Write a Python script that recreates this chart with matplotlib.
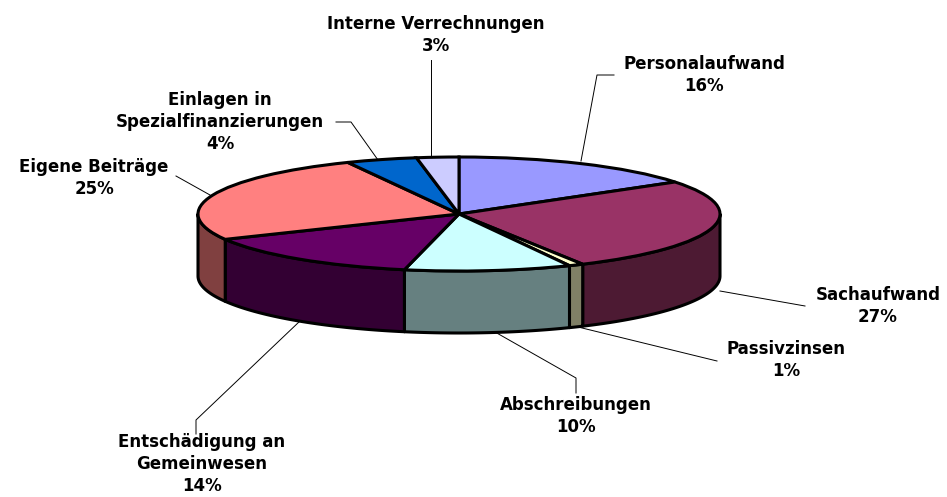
import numpy as np
import matplotlib
matplotlib.use("Agg")
import matplotlib.pyplot as plt
from matplotlib.lines import Line2D
from matplotlib.transforms import Affine2D

W, H = 947, 497
categories = ["Personalaufwand", "Sachaufwand", "Passivzinsen", "Abschreibungen",
              "Entschädigung an\nGemeinwesen", "Eigene Beiträge",
              "Einlagen in\nSpezialfinanzierungen", "Interne Verrechnungen"]
values = [15.5, 26.6, 0.9, 10.3, 14.3, 25.3, 4.4, 2.6]
top_colors = ["#9999FF", "#993366", "#FFFFCC", "#CCFFFF", "#660066", "#FF8080", "#0066CC", "#CCCCFF"]
side_colors = ["#4D4D80", "#4D1A33", "#808066", "#668080", "#330033", "#804040", "#003366", "#666680"]
label_pos = [(704, 75), (878, 306), (786, 360), (576, 416), (202, 464), (94, 178), (220, 122), (436, 35)]
leaders = [[(581, 161), (597, 75), (614, 75)],
           [(720, 291), (805, 306)],
           [(578, 327), (717, 361)],
           [(495, 332), (576, 378), (576, 393)],
           [(300, 321), (196, 420), (196, 434)],
           [(210, 195), (176, 176)],
           [(378, 160), (351, 122), (336, 122)],
           [(431, 158), (431, 60)]]

CX, CY, RX, RY, DEPTH = 459, 214, 261, 57, 62
LW = 2.2

fig = plt.figure(figsize=(W / 100, H / 100), dpi=100, facecolor="white")
ax = fig.add_axes([0, 0, 1, 1])
px = Affine2D().scale(1, -1).translate(0, H)

# leader lines sit under the pie
for pts in leaders:
    xs, ys = zip(*pts)
    ax.add_line(Line2D(xs, ys, transform=px, color="black", lw=0.7, zorder=1))

# side walls: pieces of each slice that face the viewer
fractions = np.cumsum([0] + values) / sum(values) * 360
depth_u = DEPTH / RY
for i, c in enumerate(side_colors):
    a0, a1 = max(fractions[i], 90), min(fractions[i + 1], 270)
    if a1 <= a0:
        continue
    t = np.radians(np.linspace(a0, a1, 80))
    x, y = np.sin(t), np.cos(t)
    ax.fill(np.r_[x, x[::-1]], np.r_[y, y[::-1] - depth_u],
            facecolor=c, edgecolor="black", lw=LW, joinstyle="round", zorder=2)

# top face
wedges, _ = ax.pie(values, startangle=90, counterclock=False, colors=top_colors,
                   wedgeprops=dict(edgecolor="black", linewidth=LW, zorder=3))
for w in wedges:
    w.set_zorder(3)

ax.set_aspect("auto")
ax.set_xlim((0 - CX) / RX, (W - CX) / RX)
ax.set_ylim((CY - H) / RY, CY / RY)
ax.axis("off")

for name, v, (lx, ly) in zip(categories, values, label_pos):
    ax.text(lx, ly, f"{name}\n{round(v)}%", transform=px, ha="center", va="center",
            family="DejaVu Sans", fontweight="bold", fontsize=12, linespacing=1.32,
            color="black", zorder=5, clip_on=False)

fig.savefig("out.png", dpi=100, facecolor="white")
